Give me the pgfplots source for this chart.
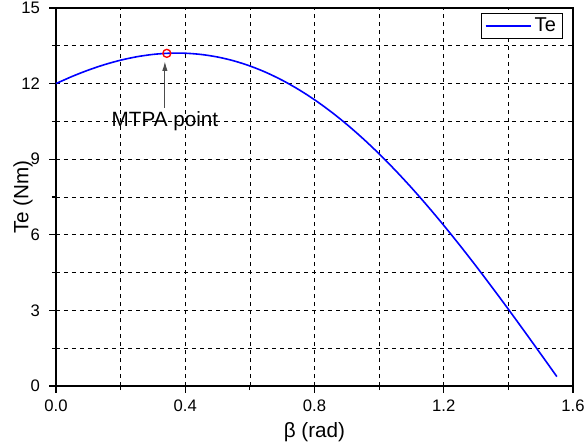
\documentclass[border=0pt]{standalone}
\usepackage{fontspec}
\setmainfont{Liberation Sans}
\usepackage{pgfplots}
\pgfplotsset{compat=1.18}
\usetikzlibrary{arrows.meta}

% Torque vs. current angle table
\pgfplotstableread{
beta  Te
0.00  12.000
0.05  12.285
0.10  12.536
0.15  12.752
0.20  12.929
0.25  13.065
0.30  13.158
0.35  13.205
0.40  13.205
0.45  13.155
0.50  13.055
0.55  12.904
0.60  12.700
0.65  12.444
0.70  12.134
0.75  11.772
0.80  11.360
0.85  10.895
0.90  10.381
0.95  9.819
1.00  9.212
1.05  8.561
1.10  7.869
1.15  7.139
1.20  6.374
1.25  5.579
1.30  4.757
1.35  3.910
1.40  3.045
1.45  2.164
1.50  1.272
1.55  0.374
}\tedata

\begin{document}
\begin{tikzpicture}
\begin{axis}[
  name=main,
  scale only axis,
  width=387.75pt, height=283.5pt,
  xmin=0, xmax=1.6, ymin=0, ymax=15,
  xtick={0,0.4,...,1.6},
  ytick={0,3,...,15},
  minor x tick num=1,
  minor y tick num=1,
  xtick pos=left, ytick pos=left,
  tick align=outside,
  major tick length=5pt,
  minor tick length=3pt,
  tick style={black, line width=0.8pt},
  axis line style={black, line width=1.1pt},
  grid=both,
  major grid style={black, dashed, line width=0.5pt},
  minor grid style={black, dashed, line width=0.5pt},
  /pgf/number format/assume math mode=true,
  tick label style={font=\fontsize{12.5}{14}\selectfont},
  xticklabel style={/pgf/number format/fixed, /pgf/number format/fixed zerofill,
    /pgf/number format/precision=1, yshift=-2pt},
  yticklabel style={xshift=-3.5pt},
  label style={font=\fontsize{15.5}{18}\selectfont},
  xlabel={β (rad)},
  ylabel={Te (Nm)},
  xlabel style={at={(axis description cs:0.5,-0.1217)}, anchor=center},
  ylabel style={at={(axis description cs:-0.064,0.5)}, anchor=center},
  legend style={at={(0.9805,0.987)}, anchor=north east, draw=black, line width=0.6pt,
    inner xsep=3pt, inner ysep=1.5pt, row sep=0pt},
  legend cell align=left,
  legend image code/.code={\draw[blue, line width=1.2pt] (0cm,0cm) -- (1.2cm,0cm);},
]
\addplot[blue, line width=1.2pt, smooth] table[x=beta, y=Te] {\tedata};
\addlegendentry{\fontsize{15}{17}\selectfont Te}
\addplot[only marks, mark=o, red, mark size=3pt, mark options={line width=1pt}, forget plot]
  coordinates {(0.343,13.20)};
\draw[-{Latex[length=7pt,width=4pt]}, black!70, line width=0.8pt]
  (axis cs:0.337,11.05) -- (axis cs:0.337,12.88);
\node[font=\fontsize{15.5}{18}\selectfont] at (axis cs:0.337,10.5) {MTPA point};
\end{axis}
\pgfresetboundingbox
\useasboundingbox ([xshift=-42pt, yshift=-45pt]main.south west) rectangle ([xshift=8.25pt, yshift=6pt]main.north east);
\end{tikzpicture}
\end{document}
